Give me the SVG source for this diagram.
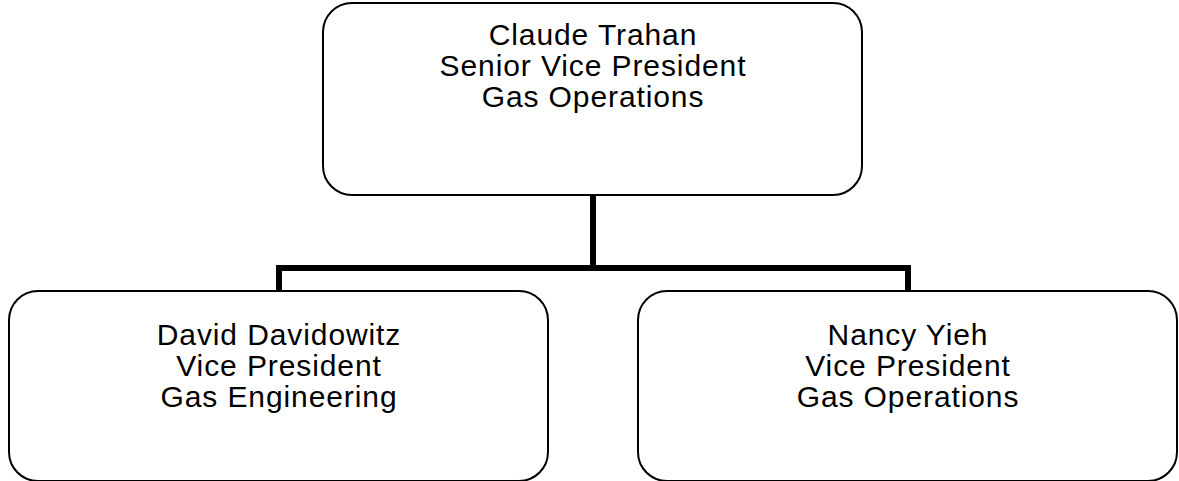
<svg xmlns="http://www.w3.org/2000/svg" width="1179" height="481" viewBox="0 0 1179 481">
<style>
.box{fill:#ffffff;stroke:#000000;stroke-width:2}
.lbl{font-family:"Liberation Sans",Arial,sans-serif;font-size:30px;letter-spacing:0.9px;fill:#000000;text-anchor:middle}
.conn{fill:none;stroke:#000000;stroke-width:6;stroke-linejoin:miter}
</style>
<rect width="1179" height="481" fill="#ffffff"/>
<g id="connectors">
<polyline class="conn" points="593,195 593,268"/>
<polyline class="conn" points="279,291 279,268 908,268 908,291"/>
</g>
<g id="node-claude">
<rect class="box" x="323" y="3" width="539" height="192" rx="29" ry="29"/>
<text class="lbl" x="593" y="45">Claude Trahan</text>
<text class="lbl" x="593" y="76">Senior Vice President</text>
<text class="lbl" x="593" y="107">Gas Operations</text>
</g>
<g id="node-david">
<rect class="box" x="9" y="291" width="539" height="190" rx="29" ry="29"/>
<text class="lbl" x="279" y="345">David Davidowitz</text>
<text class="lbl" x="279" y="376">Vice President</text>
<text class="lbl" x="279" y="407">Gas Engineering</text>
</g>
<g id="node-nancy">
<rect class="box" x="638" y="291" width="539" height="190" rx="29" ry="29"/>
<text class="lbl" x="908" y="345">Nancy Yieh</text>
<text class="lbl" x="908" y="376">Vice President</text>
<text class="lbl" x="908" y="407">Gas Operations</text>
</g>
</svg>
